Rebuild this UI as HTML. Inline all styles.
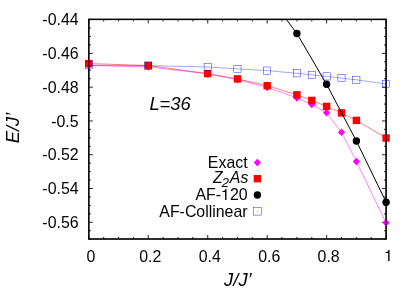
<!DOCTYPE html>
<html><head><meta charset="utf-8"><title>plot</title>
<style>
html,body{margin:0;padding:0;background:#fff;}
body{width:415px;height:291px;overflow:hidden;}
svg{display:block;will-change:transform;}
text{font-family:"Liberation Sans",sans-serif;fill:#000;}
.it{font-style:italic;}
</style></head><body>
<svg width="415" height="291" viewBox="0 0 415 291">
<rect width="415" height="291" fill="#fff"/>
<rect x="88.80" y="19.40" width="297.30" height="219.60" fill="none" stroke="#000" stroke-width="1.35"/>
<path d="M88.80 239.00v-4.1M88.80 19.40v4.1M103.66 239.00v-2.1M103.66 19.40v2.1M118.53 239.00v-2.1M118.53 19.40v2.1M133.40 239.00v-2.1M133.40 19.40v2.1M148.26 239.00v-4.1M148.26 19.40v4.1M163.12 239.00v-2.1M163.12 19.40v2.1M177.99 239.00v-2.1M177.99 19.40v2.1M192.86 239.00v-2.1M192.86 19.40v2.1M207.72 239.00v-4.1M207.72 19.40v4.1M222.58 239.00v-2.1M222.58 19.40v2.1M237.45 239.00v-2.1M237.45 19.40v2.1M252.31 239.00v-2.1M252.31 19.40v2.1M267.18 239.00v-4.1M267.18 19.40v4.1M282.05 239.00v-2.1M282.05 19.40v2.1M296.91 239.00v-2.1M296.91 19.40v2.1M311.78 239.00v-2.1M311.78 19.40v2.1M326.64 239.00v-4.1M326.64 19.40v4.1M341.51 239.00v-2.1M341.51 19.40v2.1M356.37 239.00v-2.1M356.37 19.40v2.1M371.24 239.00v-2.1M371.24 19.40v2.1M386.10 239.00v-4.1M386.10 19.40v4.1M88.80 19.40h4.1M386.10 19.40h-4.1M88.80 28.05h2.1M386.10 28.05h-2.1M88.80 36.49h2.1M386.10 36.49h-2.1M88.80 44.94h2.1M386.10 44.94h-2.1M88.80 53.38h4.1M386.10 53.38h-4.1M88.80 61.83h2.1M386.10 61.83h-2.1M88.80 70.28h2.1M386.10 70.28h-2.1M88.80 78.72h2.1M386.10 78.72h-2.1M88.80 87.17h4.1M386.10 87.17h-4.1M88.80 95.62h2.1M386.10 95.62h-2.1M88.80 104.06h2.1M386.10 104.06h-2.1M88.80 112.51h2.1M386.10 112.51h-2.1M88.80 120.95h4.1M386.10 120.95h-4.1M88.80 129.40h2.1M386.10 129.40h-2.1M88.80 137.85h2.1M386.10 137.85h-2.1M88.80 146.29h2.1M386.10 146.29h-2.1M88.80 154.74h4.1M386.10 154.74h-4.1M88.80 163.18h2.1M386.10 163.18h-2.1M88.80 171.63h2.1M386.10 171.63h-2.1M88.80 180.08h2.1M386.10 180.08h-2.1M88.80 188.52h4.1M386.10 188.52h-4.1M88.80 196.97h2.1M386.10 196.97h-2.1M88.80 205.42h2.1M386.10 205.42h-2.1M88.80 213.86h2.1M386.10 213.86h-2.1M88.80 222.31h4.1M386.10 222.31h-4.1M88.80 230.75h2.1M386.10 230.75h-2.1M88.80 239.00h2.1M386.10 239.00h-2.1" stroke="#000" stroke-width="0.85" fill="none"/>
<defs><clipPath id="c"><rect x="88.8" y="19.4" width="297.3" height="219.6"/></clipPath></defs>
<polyline fill="none" stroke="#ff00ff" stroke-width="0.5" points="88.8,65.5 148.3,66.8 207.7,73.9 237.4,79.6 267.2,87.4 296.9,97.9 311.8,104.4 326.6,112.8 341.5,132.2 356.4,161.6 386.1,222.8"/>
<path d="M88.8 61.7l3.6 3.8l-3.6 3.8l-3.6-3.8z" fill="#ff00ff"/>
<path d="M148.3 63.0l3.6 3.8l-3.6 3.8l-3.6-3.8z" fill="#ff00ff"/>
<path d="M207.7 70.1l3.6 3.8l-3.6 3.8l-3.6-3.8z" fill="#ff00ff"/>
<path d="M237.4 75.8l3.6 3.8l-3.6 3.8l-3.6-3.8z" fill="#ff00ff"/>
<path d="M267.2 83.6l3.6 3.8l-3.6 3.8l-3.6-3.8z" fill="#ff00ff"/>
<path d="M296.9 94.1l3.6 3.8l-3.6 3.8l-3.6-3.8z" fill="#ff00ff"/>
<path d="M311.8 100.6l3.6 3.8l-3.6 3.8l-3.6-3.8z" fill="#ff00ff"/>
<path d="M326.6 109.0l3.6 3.8l-3.6 3.8l-3.6-3.8z" fill="#ff00ff"/>
<path d="M341.5 128.4l3.6 3.8l-3.6 3.8l-3.6-3.8z" fill="#ff00ff"/>
<path d="M356.4 157.8l3.6 3.8l-3.6 3.8l-3.6-3.8z" fill="#ff00ff"/>
<path d="M386.1 219.0l3.6 3.8l-3.6 3.8l-3.6-3.8z" fill="#ff00ff"/>
<polyline fill="none" stroke="#ff0000" stroke-width="0.5" points="88.8,63.6 148.3,65.5 207.7,73.6 237.4,78.9 267.2,85.7 296.9,94.8 311.8,100.4 326.6,106.4 341.5,112.9 356.4,120.4 386.1,138.0"/>
<rect x="85.1" y="59.9" width="7.4" height="7.4" fill="#ff0000"/>
<rect x="144.6" y="61.8" width="7.4" height="7.4" fill="#ff0000"/>
<rect x="204.0" y="69.9" width="7.4" height="7.4" fill="#ff0000"/>
<rect x="233.8" y="75.2" width="7.4" height="7.4" fill="#ff0000"/>
<rect x="263.5" y="82.0" width="7.4" height="7.4" fill="#ff0000"/>
<rect x="293.2" y="91.1" width="7.4" height="7.4" fill="#ff0000"/>
<rect x="308.1" y="96.7" width="7.4" height="7.4" fill="#ff0000"/>
<rect x="322.9" y="102.7" width="7.4" height="7.4" fill="#ff0000"/>
<rect x="337.8" y="109.2" width="7.4" height="7.4" fill="#ff0000"/>
<rect x="352.7" y="116.7" width="7.4" height="7.4" fill="#ff0000"/>
<rect x="382.4" y="134.3" width="7.4" height="7.4" fill="#ff0000"/>
<g clip-path="url(#c)"><polyline fill="none" stroke="#000" stroke-width="1.0" points="286.0,19.0 296.9,33.5 326.6,84.3 356.4,141.0 386.1,202.2"/>
</g><circle cx="296.9" cy="33.5" r="3.7" fill="#000"/>
<circle cx="326.6" cy="84.3" r="3.7" fill="#000"/>
<circle cx="356.4" cy="141.0" r="3.7" fill="#000"/>
<circle cx="386.1" cy="202.2" r="3.7" fill="#000"/>
<polyline fill="none" stroke="#0000ff" stroke-width="0.35" points="88.8,65.3 148.3,65.6 207.7,67.0 237.4,68.9 267.2,70.6 296.9,73.3 311.8,74.9 326.6,76.4 341.5,78.1 356.4,79.8 386.1,84.0"/>
<rect x="85.20" y="61.70" width="7.2" height="7.2" fill="none" stroke="#0000ff" stroke-width="0.42"/>
<rect x="144.66" y="62.00" width="7.2" height="7.2" fill="none" stroke="#0000ff" stroke-width="0.42"/>
<rect x="204.12" y="63.40" width="7.2" height="7.2" fill="none" stroke="#0000ff" stroke-width="0.42"/>
<rect x="233.85" y="65.30" width="7.2" height="7.2" fill="none" stroke="#0000ff" stroke-width="0.42"/>
<rect x="263.58" y="67.00" width="7.2" height="7.2" fill="none" stroke="#0000ff" stroke-width="0.42"/>
<rect x="293.31" y="69.70" width="7.2" height="7.2" fill="none" stroke="#0000ff" stroke-width="0.42"/>
<rect x="308.18" y="71.30" width="7.2" height="7.2" fill="none" stroke="#0000ff" stroke-width="0.42"/>
<rect x="323.04" y="72.80" width="7.2" height="7.2" fill="none" stroke="#0000ff" stroke-width="0.42"/>
<rect x="337.90" y="74.50" width="7.2" height="7.2" fill="none" stroke="#0000ff" stroke-width="0.42"/>
<rect x="352.77" y="76.20" width="7.2" height="7.2" fill="none" stroke="#0000ff" stroke-width="0.42"/>
<rect x="382.50" y="80.40" width="7.2" height="7.2" fill="none" stroke="#0000ff" stroke-width="0.42"/>
<rect x="88.80" y="19.40" width="297.30" height="219.60" fill="none" stroke="#000" stroke-width="1.35" opacity="0.65"/>
<text x="78.6" y="25.3" text-anchor="end" font-size="15.9">-0.44</text>
<text x="78.6" y="59.1" text-anchor="end" font-size="15.9">-0.46</text>
<text x="78.6" y="92.9" text-anchor="end" font-size="15.9">-0.48</text>
<text x="78.6" y="126.7" text-anchor="end" font-size="15.9">-0.5</text>
<text x="78.6" y="160.4" text-anchor="end" font-size="15.9">-0.52</text>
<text x="78.6" y="194.2" text-anchor="end" font-size="15.9">-0.54</text>
<text x="78.6" y="228.0" text-anchor="end" font-size="15.9">-0.56</text>
<text x="90.8" y="261.5" text-anchor="middle" font-size="15.9">0</text>
<text x="150.3" y="261.5" text-anchor="middle" font-size="15.9">0.2</text>
<text x="209.7" y="261.5" text-anchor="middle" font-size="15.9">0.4</text>
<text x="269.2" y="261.5" text-anchor="middle" font-size="15.9">0.6</text>
<text x="328.6" y="261.5" text-anchor="middle" font-size="15.9">0.8</text>
<path d="M389.54 261.10 L388.14 261.10 L388.14 253.07 L385.45 253.07 L385.45 252.26 C387.60 252.10 388.25 251.56 388.70 249.83 L389.54 249.83 Z" fill="#000"/>
<text class="it" x="237.9" y="285.5" text-anchor="middle" font-size="18.4">J/J&#8217;</text>
<text class="it" transform="translate(19.2,128) rotate(-90)" text-anchor="middle" font-size="18.4">E/J&#8217;</text>
<text class="it" x="149.4" y="110" font-size="18.4">L=36</text>
<text x="247.6" y="167.9" text-anchor="end" font-size="15.9">Exact</text>
<text class="it" x="248.4" y="182.6" text-anchor="end" font-size="15.9">Z<tspan font-size="12.9" dy="4.8" dx="-1.0">2</tspan><tspan dy="-4.8" dx="1.0">As</tspan></text>
<text x="221.08" y="200.1" text-anchor="end" font-size="15.9">AF-</text>
<path d="M226.49 200.10 L225.09 200.10 L225.09 192.07 L222.40 192.07 L222.40 191.26 C224.55 191.10 225.20 190.56 225.64 188.83 L226.49 188.83 Z" fill="#000"/>
<text x="247.6" y="200.1" text-anchor="end" font-size="15.9">20</text>
<text x="247.6" y="216.8" text-anchor="end" font-size="15.9">AF-Collinear</text>
<path d="M257.4 158.8l3.6 3.8l-3.6 3.8l-3.6-3.8z" fill="#ff00ff"/>
<rect x="253.7" y="175.0" width="7.4" height="7.4" fill="#ff0000"/>
<circle cx="257.4" cy="195.0" r="3.7" fill="#000"/>
<rect x="253.60" y="207.50" width="7.6" height="7.6" fill="none" stroke="#0000ff" stroke-width="0.42"/>
<rect x="257.0" y="210.9" width="0.8" height="0.8" fill="#0000ff" opacity="0.6"/>
</svg></body></html>
